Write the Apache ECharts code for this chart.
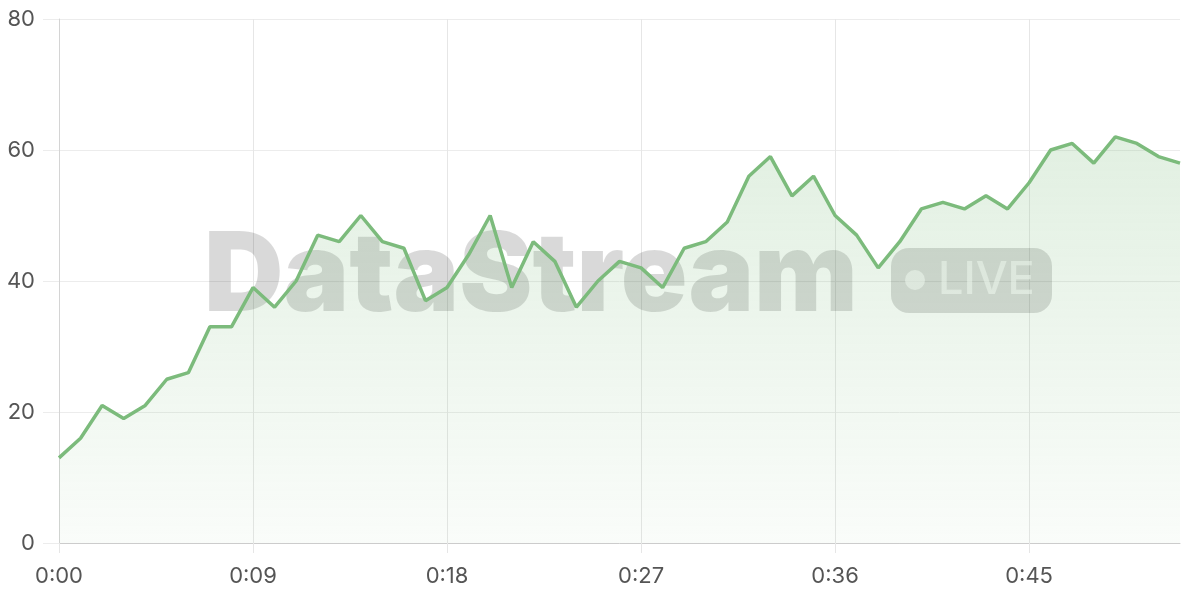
<!DOCTYPE html>
<html>
<head>
    <meta charset="utf-8">
    <title>DataStream</title>
    <script src="https://cdn.jsdelivr.net/npm/echarts@6/dist/echarts.min.js"></script>
    <style>
        html, body { margin: 0; padding: 0; background: #fff; }
    </style>
</head>
<body>
    <div id="main" style="width: 1200px;height: 600px;"></div>
    <script type="text/javascript">
        // 数值（每分钟一个点）
        var values = [13, 16, 21, 19, 21, 25, 26, 33, 33, 39,
            36, 40, 47, 46, 50, 46, 45, 37, 39, 44,
            50, 39, 46, 43, 36, 40, 43, 42, 39, 45,
            46, 49, 56, 59, 53, 56, 50, 47, 42, 46,
            51, 52, 51, 53, 51, 55, 60, 61, 58, 62,
            61, 59, 58];
        // 时间标签 0:00 ~ 0:52
        var times = ['0:00', '0:01', '0:02', '0:03', '0:04', '0:05', '0:06', '0:07', '0:08', '0:09',
            '0:10', '0:11', '0:12', '0:13', '0:14', '0:15', '0:16', '0:17', '0:18', '0:19',
            '0:20', '0:21', '0:22', '0:23', '0:24', '0:25', '0:26', '0:27', '0:28', '0:29',
            '0:30', '0:31', '0:32', '0:33', '0:34', '0:35', '0:36', '0:37', '0:38', '0:39',
            '0:40', '0:41', '0:42', '0:43', '0:44', '0:45', '0:46', '0:47', '0:48', '0:49',
            '0:50', '0:51', '0:52'];

        var myChart = echarts.init(document.getElementById('main'));

        var option = {
            animation: false,
            grid: { left: 59, right: 20, top: 19, bottom: 57 },
            graphic: [{
                type: 'text',
                left: 204,
                top: 223,
                z: 1,
                style: {
                    text: 'DataStream',
                    font: '900 110px Inter',
                    fill: 'rgba(0,0,0,0.15)'
                }
            }, {
                type: 'rect',
                left: 891,
                top: 248,
                z: 1,
                shape: { width: 161, height: 65, r: 18 },
                style: { fill: 'rgba(0,0,0,0.15)' }
            }, {
                type: 'circle',
                left: 905,
                top: 270,
                z: 1,
                shape: { r: 10 },
                style: { fill: 'rgba(255,255,255,0.6)' }
            }, {
                type: 'text',
                left: 938,
                top: 258,
                z: 1,
                style: {
                    text: 'LIVE',
                    font: '500 45px Inter',
                    fill: 'rgba(255,255,255,0.6)'
                }
            }],
            xAxis: {
                type: 'category',
                data: times,
                boundaryGap: false,
                axisLine: { lineStyle: { color: '#cccccc' } },
                axisTick: { alignWithLabel: true, interval: 8, length: 10, lineStyle: { color: '#e6e6e6' } },
                axisLabel: { interval: 8, color: '#555', fontSize: 22, margin: 22, fontFamily: 'Inter' },
                splitLine: { show: true, interval: 8, lineStyle: { color: '#e6e6e6' } }
            },
            yAxis: {
                type: 'value',
                min: 0,
                max: 80,
                interval: 20,
                axisLine: { show: true, lineStyle: { color: '#d4d4d4' } },
                axisTick: { show: true, length: 16, lineStyle: { color: '#ececec' } },
                axisLabel: { color: '#555', fontSize: 22, margin: 24, fontFamily: 'Inter' },
                splitLine: { lineStyle: { color: '#ececec' } }
            },
            series: [{
                type: 'line',
                data: values,
                showSymbol: false,
                z: 3,
                lineStyle: { color: '#7cbb7c', width: 3.5 },
                itemStyle: { color: '#7cbb7c' },
                areaStyle: {
                    color: new echarts.graphic.LinearGradient(0, 0, 0, 1, [
                        { offset: 0, color: 'rgba(124,187,124,0.32)' },
                        { offset: 1, color: 'rgba(124,187,124,0.06)' }
                    ])
                }
            }]
        };

        myChart.setOption(option);
    </script>
</body>
</html>
